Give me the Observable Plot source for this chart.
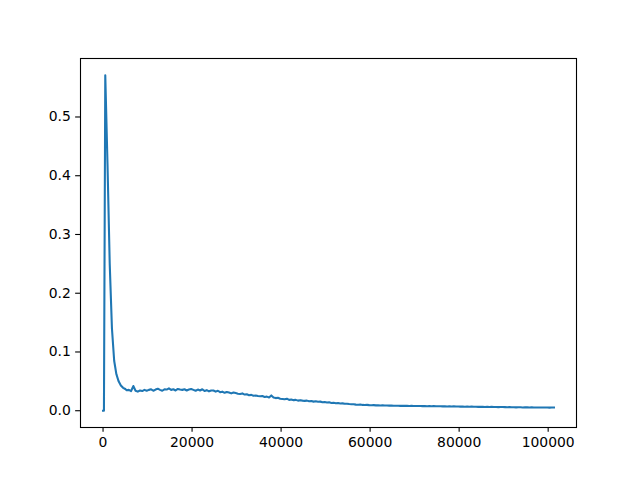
<!DOCTYPE html>
<html>
<head>
<meta charset="utf-8">
<script src="https://cdn.jsdelivr.net/npm/d3@7"></script>
<script src="https://cdn.jsdelivr.net/npm/@observablehq/plot@0.6"></script>
<style>
  html, body { margin: 0; padding: 0; background: white; }
</style>
</head>
<body>
<div id="chart"></div>
<script>
// Initial spike and decay
const spikeX = [0, 200, 500, 1000, 1500, 2000, 2500, 3000, 3500, 4000, 4500, 5000, 5300];
const spikeY = [0.0, 0.0, 0.571, 0.42, 0.25, 0.14, 0.085, 0.062, 0.05, 0.043, 0.039, 0.037, 0.035];

// Noisy plateau / slow decay, sampled every 500 steps from 5800
const tailStart = 5800;
const tailStep = 500;
const tailY = [
  0.0355, 0.0335, 0.042, 0.034, 0.0325, 0.0345, 0.0335, 0.0355, 0.034,
  0.0355, 0.0365, 0.034, 0.036, 0.0375, 0.0355, 0.034, 0.0365, 0.036, 0.038,
  0.0355, 0.0365, 0.0345, 0.037, 0.036, 0.0355, 0.0365, 0.0345, 0.036, 0.037,
  0.0355, 0.034, 0.036, 0.0345, 0.0365, 0.0335, 0.035, 0.033, 0.0345, 0.0345, 0.0325, 0.034,
  0.0315, 0.0325, 0.0305, 0.032, 0.031, 0.0295, 0.031, 0.030,
  0.029, 0.0285, 0.0295, 0.0275, 0.028, 0.0265, 0.027, 0.0255, 0.026, 0.025,
  0.0245, 0.025, 0.0235, 0.024, 0.0225, 0.026, 0.0225, 0.0215, 0.022, 0.0205,
  0.020, 0.0195, 0.0205, 0.0185, 0.019, 0.018, 0.0185, 0.0172, 0.018, 0.0172,
  0.0168, 0.0172, 0.016, 0.0165, 0.0155, 0.016, 0.0152, 0.0155, 0.0145, 0.0148,
  0.014, 0.0143, 0.0133, 0.0137, 0.0128, 0.013, 0.0123, 0.0125, 0.0118, 0.012,
  0.0113, 0.0109, 0.0111, 0.0104, 0.0103, 0.0105, 0.0099, 0.0098, 0.01, 0.0095,
  0.0094, 0.0095, 0.0091, 0.0093, 0.0089, 0.0091, 0.0088, 0.009, 0.0087, 0.0088,
  0.0086, 0.0084, 0.0086, 0.0083, 0.0085, 0.0082, 0.0084, 0.0081, 0.0083, 0.008,
  0.0081, 0.0079, 0.0081, 0.0078, 0.008, 0.0077, 0.0079, 0.0076, 0.0078, 0.0076,
  0.0075, 0.0076, 0.0074, 0.0076, 0.0073, 0.0075, 0.0072, 0.0074, 0.0071, 0.0073,
  0.007, 0.0071, 0.0069, 0.0071, 0.0068, 0.007, 0.0067, 0.0069, 0.0066, 0.0068,
  0.0066, 0.0064, 0.0066, 0.0063, 0.0065, 0.0062, 0.0064, 0.0061, 0.0063, 0.0062,
  0.0061, 0.0059, 0.0061, 0.0058, 0.006, 0.0057, 0.0059, 0.0058, 0.0056, 0.0058,
  0.0057, 0.0055, 0.0057, 0.0054, 0.0056, 0.0055, 0.0056, 0.0054, 0.0056, 0.0055, 0.0053, 0.0055, 0.0055
];

const xTicks = [0, 20000, 40000, 60000, 80000, 100000];
const yTicks = [0.0, 0.1, 0.2, 0.3, 0.4, 0.5];

const data = [];
spikeX.forEach((x, i) => data.push({x, y: spikeY[i]}));
tailY.forEach((y, i) => data.push({x: tailStart + i * tailStep, y}));

const pad = (e) => { const r = e[1] - e[0]; return [e[0] - 0.05 * r, e[1] + 0.05 * r]; };
const xDomain = pad(d3.extent(data, d => d.x));
const yDomain = pad(d3.extent(data, d => d.y));

const chart = Plot.plot({
  width: 640,
  height: 480,
  marginLeft: 80,
  marginRight: 64,
  marginTop: 58,
  marginBottom: 53,
  style: { fontFamily: "DejaVu Sans", fontSize: "13.9px", background: "white", color: "black" },
  x: { domain: xDomain, label: null },
  y: { domain: yDomain, label: null },
  marks: [
    Plot.line(data, { x: "x", y: "y", stroke: "#1f77b4", strokeWidth: 2.08, strokeLinejoin: "round", strokeLinecap: "square" }),
    Plot.frame({ stroke: "black", strokeWidth: 1.1 }),
    Plot.axisX({ ticks: xTicks, tickFormat: d3.format("d"), tickSize: 4.86, tickPadding: 4.86, strokeWidth: 1.1, label: null, fill: "black" }),
    Plot.axisY({ ticks: yTicks, tickFormat: d3.format(".1f"), tickSize: 4.86, tickPadding: 4.86, strokeWidth: 1.1, label: null, fill: "black" })
  ]
});
document.getElementById("chart").appendChild(chart);
</script>
</body>
</html>
